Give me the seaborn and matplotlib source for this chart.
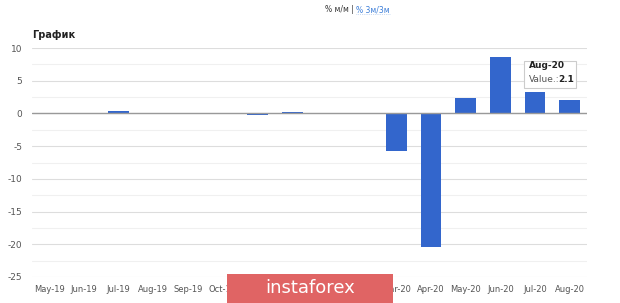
import matplotlib
matplotlib.use("Agg")
import matplotlib.pyplot as plt
import seaborn as sns
import pandas as pd
from matplotlib.patches import FancyBboxPatch, Rectangle

months = ["May-19", "Jun-19", "Jul-19", "Aug-19", "Sep-19", "Oct-19", "Nov-19", "Dec-19",
          "Jan-20", "Feb-20", "Mar-20", "Apr-20", "May-20", "Jun-20", "Jul-20", "Aug-20"]
values = [0.1, 0.0, 0.4, -0.1, -0.1, 0.0, -0.2, 0.2,
          0.0, -0.1, -5.7, -20.4, 2.3, 8.6, 3.3, 2.1]
yticks = [10, 5, 0, -5, -10, -15, -20, -25]

sns.set_theme(style="white")
plt.rcParams['font.family'] = ['DejaVu Sans']

fig = plt.figure(figsize=(6.2, 3.03), dpi=100)
ax = fig.add_axes([32/620, (303-277)/303, (587-32)/620, (277-48)/303])

df = pd.DataFrame({"month": months, "value": values})
sns.barplot(data=df, x="month", y="value", color="#3366cc", saturation=1, width=0.6,
            linewidth=0, ax=ax)

ax.set_ylim(-25, 10)
ax.set_xlim(-0.5, len(months) - 0.5)
ax.set_yticks(yticks)
ax.set_yticklabels([str(t) for t in yticks], fontsize=6.5, color="#555555")
ax.set_yticks([7.5, 2.5, -2.5, -7.5, -12.5, -17.5, -22.5], minor=True)
ax.grid(axis="y", which="major", color="#dddddd", linewidth=0.8)
ax.grid(axis="y", which="minor", color="#f0f0f0", linewidth=0.8)
ax.set_axisbelow(True)
ax.axhline(0, color="#999999", linewidth=1, zorder=1)
ax.tick_params(axis="x", labelsize=6, colors="#555555", length=0, pad=6)
ax.tick_params(axis="y", which="both", length=0, pad=7)
ax.set_xlabel("")
ax.set_ylabel("")
for s in ax.spines.values():
    s.set_visible(False)

# Title and header
fig.text(32/620, 1 - 35/303, "График", fontsize=7, fontweight="bold", color="#222222", va="center")
fig.text(325/620, 1 - 10/303, "% м/м |", fontsize=5.5, color="#333333", va="center", ha="left")
fig.text(356/620, 1 - 10/303, "% 3м/3м", fontsize=5.5, color="#3b7dd8", va="center", ha="left")
fig.lines.append(plt.Line2D([356/620, 390/620], [1 - 14/303, 1 - 14/303], transform=fig.transFigure,
                            color="#9bbbe8", linewidth=0.5, linestyle=":"))

# Tooltip
tip = FancyBboxPatch((524/620, 1 - 88/303), 52/620, 27/303, boxstyle="square,pad=0",
                     transform=fig.transFigure, facecolor="white", edgecolor="#cccccc",
                     linewidth=0.8, zorder=10)
fig.patches.append(tip)
fig.text(529/620, 1 - 68/303, "Aug-20", fontsize=6.5, fontweight="bold", color="#222222", zorder=11)
fig.text(529/620, 1 - 82/303, "Value.:", fontsize=6.5, color="#555555", zorder=11)
fig.text(558/620, 1 - 82/303, "2.1", fontsize=6.5, fontweight="bold", color="#222222", zorder=11)

# Watermark
wm = Rectangle((227/620, 0), (393-227)/620, (303-274)/303, transform=fig.transFigure,
               facecolor="#e06464", edgecolor="none", zorder=12)
fig.patches.append(wm)
fig.text(310/620, (303-288)/303, "instaforex", fontsize=13, color="white", ha="center", va="center", zorder=13)

fig.savefig("out.png", dpi=100)
